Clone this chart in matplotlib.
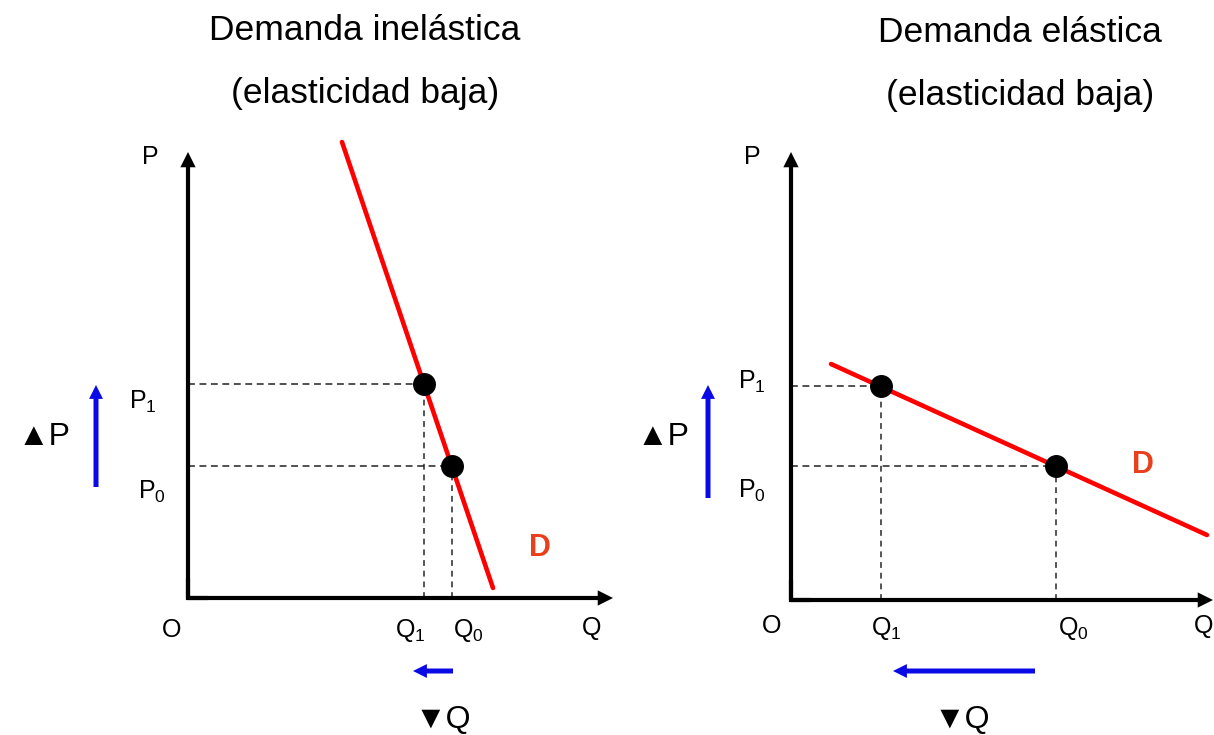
import matplotlib
matplotlib.use("Agg")
import matplotlib.pyplot as plt
from matplotlib.patches import FancyArrowPatch, ArrowStyle

plt.rcParams['font.family'] = ['Liberation Sans', 'DejaVu Sans']
plt.rcParams['mathtext.default'] = 'regular'

# ---------------- data (panel units: 10 px per unit, origin at axes corner) ----
titles_left = ["Demanda inelástica", "(elasticidad baja)"]
titles_right = ["Demanda elástica", "(elasticidad baja)"]

# left panel: inelastic demand
left_q_points = [23.6, 26.4]      # Q1, Q0
left_p_points = [21.4, 13.2]      # P1, P0
left_demand_q = [15.4, 30.5]
left_demand_p = [45.6, 1.0]

# right panel: elastic demand
right_q_points = [9.0, 26.5]      # Q1, Q0
right_p_points = [21.4, 13.4]     # P1, P0
right_demand_q = [4.0, 41.6]
right_demand_p = [23.6, 6.5]

q_labels = [r"$Q_1$", r"$Q_0$"]
p_labels = [r"$P_1$", r"$P_0$"]

# ---------------- figure ----------------
W, H = 1214, 735
fig = plt.figure(figsize=(W / 100, H / 100), dpi=100)


def make_axes(ox, oy):
    ax = fig.add_axes([0, 0, 1, 1])
    ax.set_xlim(-ox / 10, (W - ox) / 10)
    ax.set_ylim(-(H - oy) / 10, oy / 10)
    ax.axis('off')
    ax.patch.set_alpha(0)
    return ax


def arrow(ax, start, end, color, tail, head_w, head_l):
    st = ArrowStyle("simple", head_length=head_l, head_width=head_w, tail_width=tail)
    ax.add_patch(FancyArrowPatch(start, end, arrowstyle=st, mutation_scale=1,
                                 color=color, lw=0, shrinkA=0, shrinkB=0, zorder=3))


def panel(ax, qmax, pmax, qs, ps, dq, dp, titles, title_x, lab):
    # axes with arrowheads
    arrow(ax, (0, 0), (0, pmax), 'black', 3.0, 11, 11)
    arrow(ax, (0, 0), (qmax, 0), 'black', 3.0, 11, 11)
    ax.plot([0, 0, 2], [2, 0, 0], color='black', lw=3.0,
            solid_joinstyle='miter', solid_capstyle='butt', zorder=3)
    # guides
    for q, p in zip(qs, ps):
        ax.plot([0, q], [p, p], color='#222222', lw=1.1, dashes=(4.5, 3), zorder=1)
        ax.plot([q, q], [0, p], color='#555555', lw=1.4, dashes=(3, 2.5), zorder=1)
    # demand
    ax.plot(dq, dp, color='#ff0000', lw=3.3, solid_capstyle='round', zorder=2)
    ax.plot(qs, ps, 'o', color='black', ms=15.5, zorder=4)
    # titles
    ax.text(title_x, 56.8, titles[0], fontsize=25.5, ha='center', va='center')
    ax.text(title_x, 50.4, titles[1], fontsize=25.5, ha='center', va='center')
    # labels
    fs = 18
    ax.text(*lab['P'], 'P', fontsize=fs, ha='center', va='center')
    ax.text(*lab['O'], 'O', fontsize=fs, ha='center', va='center')
    ax.text(*lab['Q'], 'Q', fontsize=fs, ha=lab.get('Qha', 'center'), va='center')
    for t, pos in zip(p_labels, lab['plabs']):
        ax.text(*pos, t, fontsize=fs, ha='center', va='center')
    for t, pos in zip(q_labels, lab['qlabs']):
        ax.text(*pos, t, fontsize=fs, ha='center', va='center')
    ax.text(*lab['D'], 'D', fontsize=22, fontweight='bold', color='#e8401c',
            ha='center', va='center')
    ax.text(*lab['dP'], '▲P', fontsize=23, ha='center', va='center')
    ax.text(*lab['dQ'], '▼Q', fontsize=23, ha='center', va='center')
    # blue change arrows
    arrow(ax, lab['vA'][0], lab['vA'][1], '#0a0ae6', 3.6, 10, 10)
    arrow(ax, lab['hA'][0], lab['hA'][1], '#0a0ae6', 3.6, 10, 10)


axL = make_axes(188, 598)
panel(axL, 42.5, 44.6, left_q_points, left_p_points, left_demand_q, left_demand_p,
      titles_left, 17.7,
      dict(P=(-3.8, 44.1), O=(-1.6, -3.2), Q=(40.4, -3.0),
           plabs=[(-4.5, 19.6), (-3.6, 10.6)],
           qlabs=[(22.2, -3.2), (28.0, -3.2)],
           D=(35.2, 5.0), dP=(-14.4, 16.1), dQ=(25.5, -12.2),
           vA=((-9.2, 11.1), (-9.2, 21.3)), hA=((26.5, -7.3), (22.5, -7.3))))

axR = make_axes(791, 600)
panel(axR, 42.2, 44.8, right_q_points, right_p_points, right_demand_q, right_demand_p,
      titles_right, 22.9,
      dict(P=(-3.9, 44.3), O=(-1.9, -2.6), Q=(42.2, -2.6), Qha='right',
           plabs=[(-3.9, 21.8), (-3.9, 10.9)],
           qlabs=[(9.5, -2.8), (28.2, -2.9)],
           D=(35.2, 13.5), dP=(-12.8, 16.3), dQ=(17.1, -12.0),
           vA=((-8.3, 10.2), (-8.3, 21.5)), hA=((24.4, -7.1), (10.2, -7.1))))

fig.savefig("out.png", dpi=100)
